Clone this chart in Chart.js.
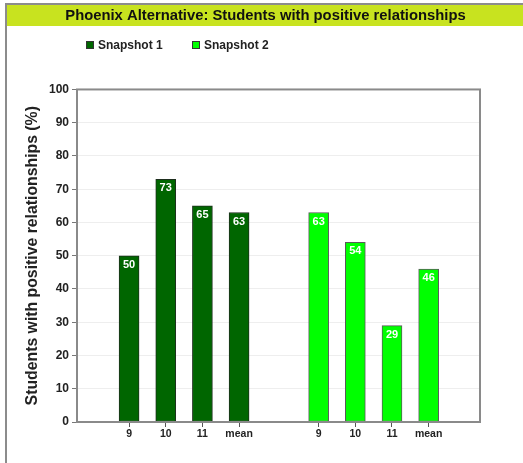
<!DOCTYPE html>
<html>
<head>
<meta charset="utf-8">
<script src="https://cdn.jsdelivr.net/npm/chart.js@4/dist/chart.umd.min.js"></script>
<style>
  html, body { margin: 0; padding: 0; background: #fff; }
  canvas { display: block; }
</style>
</head>
<body>
<canvas id="chart" width="523" height="463"></canvas>
<script>
// ---- data ----
const chartTitle = 'Phoenix Alternative: Students with positive relationships';
const yAxisTitle = 'Students with positive relationships (%)';
const categories = ['9', '10', '11', 'mean'];
const seriesNames = ['Snapshot 1', 'Snapshot 2'];
const snapshot1 = [50, 73, 65, 63];
const snapshot2 = [63, 54, 29, 46];
const yTickValues = [0, 10, 20, 30, 40, 50, 60, 70, 80, 90, 100];

// ---- layout helpers ----
const groupStart = [0, 5.17];          // each snapshot is drawn as its own group along x
const seriesColors = ['#006600', '#00ff00'];
const seriesBorders = ['#1e2e1e', '#5a5a5a'];
const FONT = '"Liberation Sans", Arial, sans-serif';

const seriesValues = [snapshot1, snapshot2];
const tickPositions = [];
const tickLabelAt = {};
const datasets = seriesValues.map((vals, g) => {
  const pts = vals.map((v, i) => {
    const x = +(groupStart[g] + i).toFixed(2);
    tickPositions.push(x);
    tickLabelAt[x] = categories[i];
    return { x: x, y: v };
  });
  return {
    label: seriesNames[g],
    data: pts,
    backgroundColor: seriesColors[g],
    borderColor: seriesBorders[g],
    borderWidth: 1,
    borderSkipped: false,
    barThickness: 20,
    grouped: false
  };
});

// page frame and title band
const framePlugin = {
  id: 'frame',
  beforeDraw(chart) {
    const ctx = chart.ctx;
    ctx.save();
    ctx.fillStyle = '#ffffff';
    ctx.fillRect(0, 0, chart.width, chart.height);
    ctx.fillStyle = '#8c8c8c';
    ctx.fillRect(5, 3, 2, chart.height - 3);
    ctx.fillRect(5, 3, chart.width - 5, 2);
    ctx.fillStyle = '#c8e31f';
    ctx.fillRect(7, 5, chart.width - 7, 21);
    ctx.restore();
  },
  afterDraw(chart) {
    const a = chart.chartArea, ctx = chart.ctx;
    ctx.save();
    ctx.strokeStyle = '#8a8a8a';
    ctx.lineWidth = 2;
    ctx.strokeRect(a.left, a.top, a.right - a.left, a.bottom - a.top);
    ctx.restore();
  }
};

// legend row under the title band
const legendRow = {
  id: 'legendRow',
  afterDraw(chart) {
    const ctx = chart.ctx;
    const xs = [86, 192];
    ctx.save();
    ctx.font = 'bold 12px ' + FONT;
    ctx.textBaseline = 'middle';
    ctx.textAlign = 'left';
    chart.data.datasets.forEach((ds, i) => {
      ctx.fillStyle = ds.backgroundColor;
      ctx.fillRect(xs[i], 41, 8, 8);
      ctx.strokeStyle = '#333';
      ctx.lineWidth = 1;
      ctx.strokeRect(xs[i] + 0.5, 41.5, 7, 7);
      ctx.fillStyle = '#222';
      ctx.fillText(ds.label, xs[i] + 12, 45.5);
    });
    ctx.restore();
  }
};

// value printed inside the top of each bar
const valueLabels = {
  id: 'valueLabels',
  afterDatasetsDraw(chart) {
    const ctx = chart.ctx;
    ctx.save();
    ctx.font = 'bold 11px ' + FONT;
    ctx.fillStyle = '#ffffff';
    ctx.textAlign = 'center';
    ctx.textBaseline = 'middle';
    chart.data.datasets.forEach((ds, di) => {
      chart.getDatasetMeta(di).data.forEach((bar, i) => {
        ctx.fillText(String(ds.data[i].y), bar.x, bar.y + 9);
      });
    });
    ctx.restore();
  }
};

new Chart(document.getElementById('chart'), {
  type: 'bar',
  data: { datasets: datasets },
  plugins: [framePlugin, legendRow, valueLabels],
  options: {
    responsive: false,
    animation: false,
    events: [],
    layout: { padding: { left: 8, right: 0, top: 5, bottom: 0 } },
    plugins: {
      legend: { display: false },
      tooltip: { enabled: false },
      title: {
        display: true,
        text: chartTitle,
        color: '#111',
        font: { family: FONT, size: 14.8, weight: 'bold' },
        padding: { top: 2, bottom: 64.7 }
      }
    },
    scales: {
      x: {
        type: 'linear',
        offset: false,
        min: -1.42,
        max: 9.57,
        afterBuildTicks(scale) {
          scale.ticks = tickPositions.map(v => ({ value: v }));
        },
        afterFit(scale) { scale.height = 41; },
        border: { display: false },
        grid: { offset: false, drawOnChartArea: false, tickLength: 5, color: '#555', lineWidth: 1 },
        ticks: {
          autoSkip: false,
          maxRotation: 0,
          padding: 1,
          color: '#222',
          font: { family: FONT, size: 10.5, weight: 'bold' },
          callback: v => tickLabelAt[+(+v).toFixed(2)]
        }
      },
      y: {
        min: 0,
        max: 100,
        afterBuildTicks(scale) {
          scale.ticks = yTickValues.map(v => ({ value: v }));
        },
        afterFit(scale) { scale.width = 69; },
        border: { display: false },
        grid: { color: '#eeeeee', tickColor: '#777', tickLength: 5, lineWidth: 1 },
        ticks: {
          padding: 3,
          color: '#222',
          font: { family: FONT, size: 12, weight: 'bold' }
        },
        title: {
          display: true,
          text: yAxisTitle,
          color: '#222',
          font: { family: FONT, size: 15.8, weight: 'bold' },
          padding: { top: 15, bottom: 0 }
        }
      },
      // empty right-hand margin beside the plot
      yRight: {
        position: 'right',
        min: 0,
        max: 100,
        afterFit(scale) { scale.width = 43; },
        border: { display: false },
        grid: { display: false },
        ticks: { display: false }
      }
    }
  }
});
</script>
</body>
</html>
